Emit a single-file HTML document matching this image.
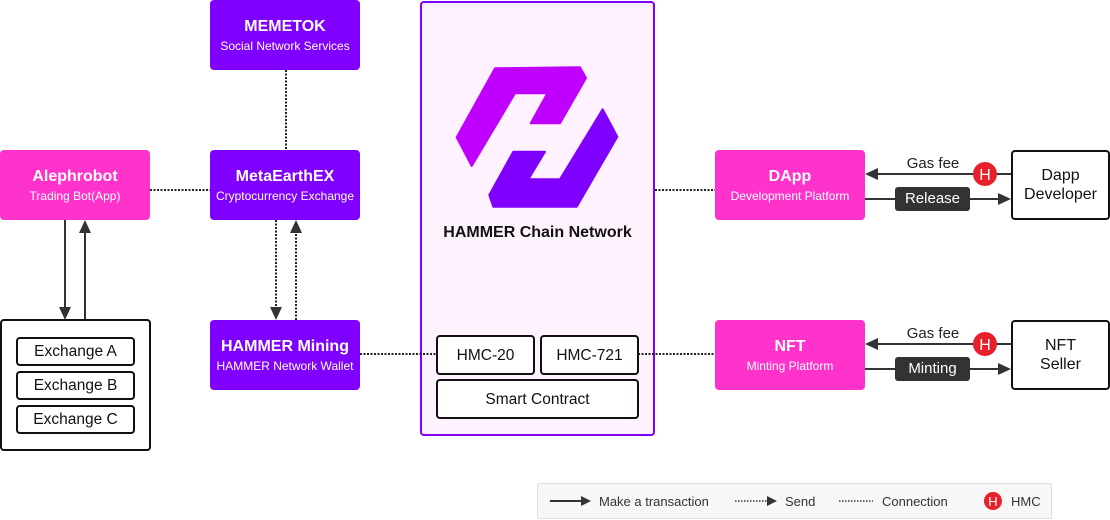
<!DOCTYPE html>
<html><head><meta charset="utf-8">
<style>
*{margin:0;padding:0;box-sizing:border-box}
body{width:1110px;height:520px;background:#fff;position:relative;overflow:hidden;font-family:"Liberation Sans","Noto Sans CJK KR",sans-serif;color:#111}
.b{position:absolute;border-radius:4px;color:#fff;text-align:center}
.pu{background:#8000ff}
.mg{background:#ff33cc}
.t{position:absolute;left:0;right:0;font-weight:bold;font-size:16px;line-height:18px}
.s{position:absolute;left:0;right:0;font-size:12px;line-height:14px}
.w{position:absolute;background:#fff;border:2px solid #111;border-radius:4px;text-align:center;font-size:15.5px;color:#111;display:flex;align-items:center;justify-content:center;line-height:19px}
.lbl{position:absolute;font-size:15px;color:#222}
.dk{position:absolute;background:#333;color:#fff;border-radius:3px;font-size:15px;text-align:center;line-height:24px;height:24px}
</style></head><body>

<div style="position:absolute;left:420px;top:1px;width:235px;height:435px;background:#fdf2fd;border:2px solid #8000ff;border-radius:4px"></div>

<svg style="position:absolute;left:0;top:0" width="1110" height="520" viewBox="0 0 1110 520">
  <path d="M495,68.3 L580,67.3 L586,78 L560,123.3 L530.7,123.3 L547.3,93.3 L515,93.3 L471.7,166 L456.7,137.3 Z" fill="#c000ff" stroke="#c000ff" stroke-width="2" stroke-linejoin="round"/>
  <path d="M602.7,109.3 L617.3,136.7 L576.7,206.7 L493.3,206.7 L489.3,195 L513.3,151.7 L545,151.7 L528.3,179.3 L560,179.3 Z" fill="#8000ff" stroke="#8000ff" stroke-width="2" stroke-linejoin="round"/>

  <g stroke="#222" stroke-width="2" stroke-dasharray="2 1.5" fill="none">
    <line x1="286" y1="70" x2="286" y2="150"/>
    <line x1="150" y1="190" x2="210" y2="190"/>
    <line x1="276" y1="220" x2="276" y2="308"/>
    <line x1="296" y1="320" x2="296" y2="232"/>
    <line x1="360" y1="354" x2="436" y2="354"/>
    <line x1="638" y1="354" x2="715" y2="354"/>
    <line x1="655" y1="190" x2="715" y2="190"/>
  </g>
  <g fill="#333">
    <polygon points="270,307 282,307 276,320"/>
    <polygon points="290,233 302,233 296,220"/>
  </g>
  <g stroke="#333" stroke-width="2">
    <line x1="65" y1="220" x2="65" y2="308"/>
    <line x1="85" y1="320" x2="85" y2="232"/>
    <line x1="1011" y1="174" x2="877" y2="174"/>
    <line x1="865" y1="199" x2="999" y2="199"/>
    <line x1="1011" y1="344" x2="877" y2="344"/>
    <line x1="865" y1="369" x2="999" y2="369"/>
  </g>
  <g fill="#333">
    <polygon points="59,307 71,307 65,320"/>
    <polygon points="79,233 91,233 85,220"/>
    <polygon points="878,168 878,180 865,174"/>
    <polygon points="998,193 998,205 1011,199"/>
    <polygon points="878,338 878,350 865,344"/>
    <polygon points="998,363 998,375 1011,369"/>
  </g>
  <g>
    <circle cx="985" cy="174" r="12" fill="#e8202a"/>
    <text x="985" y="180" fill="#fff" font-size="16" text-anchor="middle" font-family="Liberation Sans, sans-serif">H</text>
    <circle cx="985" cy="344" r="12" fill="#e8202a"/>
    <text x="985" y="350" fill="#fff" font-size="16" text-anchor="middle" font-family="Liberation Sans, sans-serif">H</text>
  </g>
</svg>

<div style="position:absolute;left:420px;top:224px;width:235px;text-align:center;font-weight:bold;font-size:16px;color:#111">HAMMER Chain Network</div>

<div class="b pu" style="left:210px;top:0;width:150px;height:70px"><div class="t" style="top:18px">MEMETOK</div><div class="s" style="top:39px">Social Network Services</div></div>
<div class="b pu" style="left:210px;top:150px;width:150px;height:70px"><div class="t" style="top:18px">MetaEarthEX</div><div class="s" style="top:39px">Cryptocurrency Exchange</div></div>
<div class="b pu" style="left:210px;top:320px;width:150px;height:70px"><div class="t" style="top:18px">HAMMER Mining</div><div class="s" style="top:39px">HAMMER Network Wallet</div></div>

<div class="b mg" style="left:0;top:150px;width:150px;height:70px"><div class="t" style="top:18px">Alephrobot</div><div class="s" style="top:39px">Trading Bot(App)</div></div>
<div class="b mg" style="left:715px;top:150px;width:150px;height:70px"><div class="t" style="top:18px">DApp</div><div class="s" style="top:39px">Development Platform</div></div>
<div class="b mg" style="left:715px;top:320px;width:150px;height:70px"><div class="t" style="top:18px">NFT</div><div class="s" style="top:39px">Minting Platform</div></div>

<div class="w" style="left:0;top:319px;width:151px;height:132px"></div>
<div class="w" style="left:16px;top:337px;width:119px;height:29px">Exchange A</div>
<div class="w" style="left:16px;top:371px;width:119px;height:29px">Exchange B</div>
<div class="w" style="left:16px;top:405px;width:119px;height:29px">Exchange C</div>

<div class="w" style="left:436px;top:335px;width:99px;height:40px">HMC-20</div>
<div class="w" style="left:540px;top:335px;width:99px;height:40px">HMC-721</div>
<div class="w" style="left:436px;top:379px;width:203px;height:40px">Smart Contract</div>

<div class="w" style="left:1011px;top:150px;width:99px;height:70px;font-size:16px">Dapp<br>Developer</div>
<div class="w" style="left:1011px;top:320px;width:99px;height:70px;font-size:16px">NFT<br>Seller</div>

<div class="lbl" style="left:903px;top:155px;width:60px;text-align:center">Gas fee</div>
<div class="lbl" style="left:903px;top:325px;width:60px;text-align:center">Gas fee</div>
<div class="dk" style="left:895px;top:187px;width:75px">Release</div>
<div class="dk" style="left:895px;top:357px;width:75px">Minting</div>

<div style="position:absolute;left:537px;top:483px;width:515px;height:36px;background:#f7f7f7;border:1px solid #e0e0e0;border-radius:2px"></div>
<svg style="position:absolute;left:0;top:0" width="1110" height="520">
  <line x1="550" y1="501" x2="582" y2="501" stroke="#333" stroke-width="2"/>
  <polygon points="581,496 581,506 591,501" fill="#333"/>
  <line x1="735" y1="501" x2="768" y2="501" stroke="#333" stroke-width="1.5" stroke-dasharray="1.5 1.5"/>
  <polygon points="767,496 767,506 777,501" fill="#333"/>
  <line x1="839" y1="501" x2="873" y2="501" stroke="#333" stroke-width="1.5" stroke-dasharray="1.5 1.5"/>
  <circle cx="993" cy="501" r="9" fill="#e8202a"/>
  <text x="993" y="506" fill="#fff" font-size="13" text-anchor="middle" font-family="Liberation Sans, sans-serif">H</text>
  <g font-size="13" fill="#333" font-family="Liberation Sans, sans-serif">
    <text x="599" y="506">Make a transaction</text>
    <text x="785" y="506">Send</text>
    <text x="882" y="506">Connection</text>
    <text x="1011" y="506">HMC</text>
  </g>
</svg>
</body></html>
